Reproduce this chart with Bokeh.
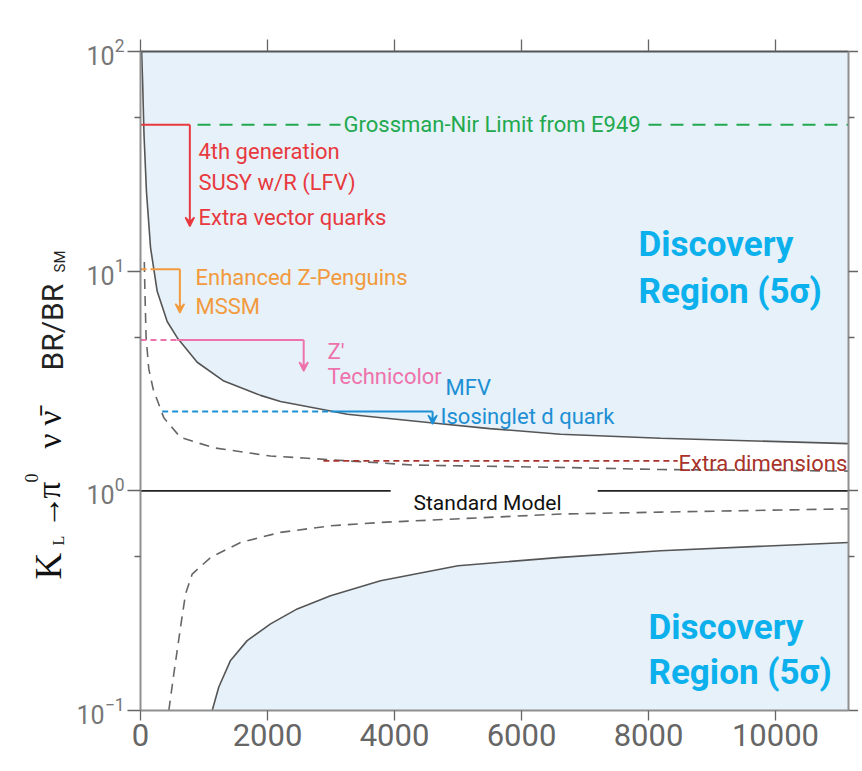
import math
from bokeh.plotting import figure
from bokeh.layouts import row
from bokeh.models import (Range1d, LogAxis, LinearAxis, FixedTicker, Label, Arrow, VeeHead,
                          CustomJSTickFormatter)
from bokeh.core.properties import value
from bokeh.embed import file_html
from bokeh.resources import INLINE

# ---------------- data ----------------
# 5 sigma discovery boundary (upper, solid)
upper_x = [18, 35, 55, 94, 158, 263, 420, 578, 893, 1313, 1890, 2205, 2993, 3255, 4568, 5500, 6615, 8190, 11150]
upper_y = [100, 70, 42, 23, 12.8, 8.1, 5.9, 4.98, 3.85, 3.16, 2.72, 2.55, 2.31, 2.23, 2.04, 1.92, 1.81, 1.736, 1.64]
# 5 sigma discovery boundary (lower, solid)
lower_x = [1129, 1233, 1418, 1680, 2048, 2468, 2993, 3780, 5000, 6615, 8190, 11150]
lower_y = [0.1, 0.128, 0.169, 0.208, 0.248, 0.29, 0.333, 0.39, 0.456, 0.498, 0.534, 0.582]
# 3 sigma (dashed) boundaries
dash_up_x = [60, 70, 88, 130, 200, 367, 630, 1155, 2048, 2572, 4300, 6773, 8190, 11150]
dash_up_y = [11, 8.0, 5.0, 3.6, 2.9, 2.15, 1.75, 1.57, 1.44, 1.41, 1.31, 1.276, 1.25, 1.23]
dash_lo_x = [446, 525, 630, 709, 814, 1103, 1575, 2205, 2993, 3780, 6615, 8190, 11150]
dash_lo_y = [0.1, 0.147, 0.239, 0.339, 0.418, 0.497, 0.582, 0.647, 0.693, 0.718, 0.784, 0.80, 0.828]

x_ticks = [0, 2000, 4000, 6000, 8000, 10000]
y_ticks = [0.1, 1, 10, 100]
y_minor = [0.5, 5, 50]

# model predictions: level, x where line ends (arrow), arrow tip level
gn_level = 46.4                     # Grossman-Nir limit
red_level, red_x, red_tip = 46.4, 777, 16.0
org_level, org_x, org_tip = 10.2, 620, 6.46
pink_level, pink_x, pink_tip = 4.86, 2570, 3.51
blue_level, blue_x, blue_tip = 2.295, 4600, 2.01
xd_level = 1.369                    # extra dimensions
sm_level = 1.0

# ---------------- figure ----------------
FILL = "#e6f1f9"
CURVE = "#555555"
AXC = "#8f8f8f"
SANS = "Roboto"
TW = 71     # width of the strip holding the rotated y title
H = 762
FR_TOP, FR_BOT = 51, 710   # frame edges (pixels from top)

p = figure(width=858 - TW, height=H, x_range=Range1d(0, 11150), y_range=Range1d(0.1, 100),
           y_axis_type="log", output_backend="svg", toolbar_location=None,
           min_border_left=140 - TW, min_border_right=10, min_border_top=FR_TOP,
           min_border_bottom=H - FR_BOT,
           background_fill_color="white", border_fill_color="white", outline_line_color=None)
p.grid.visible = False

# discovery regions
p.varea(x=upper_x, y1=upper_y, y2=[100] * len(upper_x), fill_color=FILL)
p.varea(x=lower_x, y1=[0.1] * len(lower_x), y2=lower_y, fill_color=FILL)

# boundaries
p.line(upper_x, upper_y, line_color=CURVE, line_width=1.6)
p.line(lower_x, lower_y, line_color=CURVE, line_width=1.6)
p.line(dash_up_x, dash_up_y, line_color="#666666", line_width=1.6, line_dash="10 7")
p.line(dash_lo_x, dash_lo_y, line_color="#666666", line_width=1.6, line_dash="10 7")

# Standard Model line
p.line([0, 3940], [sm_level, sm_level], line_color="#222222", line_width=1.8)
p.line([7200, 11150], [sm_level, sm_level], line_color="#222222", line_width=1.8)

# Grossman-Nir limit
GREEN = "#22a94f"
p.line([898, 3150], [gn_level, gn_level], line_color=GREEN, line_width=1.8, line_dash="13 9")
p.line([8000, 11150], [gn_level, gn_level], line_color=GREEN, line_width=1.8, line_dash="13 9")

def bracket(level, xs_dash, xs_solid, x_arrow, tip, color):
    if xs_dash:
        p.line(xs_dash, [level, level], line_color=color, line_width=2, line_dash="6 4")
    p.line(xs_solid, [level, level], line_color=color, line_width=2)
    p.add_layout(Arrow(end=VeeHead(size=9, line_color=color, fill_color=color, line_width=1.5),
                       x_start=x_arrow, y_start=level, x_end=x_arrow, y_end=tip,
                       line_color=color, line_width=2))

RED = "#e8393f"
ORG = "#f29a3d"
PINK = "#ee72ab"
BLUE = "#1d8fd4"
DRED = "#a8332c"
bracket(red_level, None, [0, red_x], red_x, red_tip, RED)
bracket(org_level, [0, 160], [160, org_x], org_x, org_tip, ORG)
bracket(pink_level, [0, 578], [578, pink_x], pink_x, pink_tip, PINK)
bracket(blue_level, [341, 2993], [2993, blue_x], blue_x, blue_tip, BLUE)
p.line([2880, 8460], [xd_level, xd_level], line_color=DRED, line_width=1.8, line_dash="6 4")

def lab(text, x, y, color, size, font=SANS, style="normal", align="left", baseline="alphabetic"):
    p.add_layout(Label(x=x, y=y, text=text, text_color=color, text_font_size=f"{size}px",
                       text_font=font, text_font_style=style, text_align=align,
                       text_baseline=baseline))

lab("Grossman-Nir Limit from E949", 3197, gn_level, GREEN, 22, baseline="middle")
lab("4th generation", 913, 35.1, RED, 22)
lab("SUSY w/R (LFV)", 913, 25.2, RED, 22)
lab("Extra vector quarks", 913, 17.5, RED, 22)
lab("Enhanced Z-Penguins", 866, 9.32, ORG, 22)
lab("MSSM", 866, 6.93, ORG, 22)
lab("Z'", 2945, 4.33, PINK, 22)
lab("Technicolor", 2945, 3.33, PINK, 22)
lab("MFV", 4804, 2.94, BLUE, 22)
lab("Isosinglet d quark", 4725, 2.19, BLUE, 22)
lab("Extra dimensions", 8474, 1.327, DRED, 22)
lab("Standard Model", 5465, 0.882, "#111111", 21, align="center")

CYAN = "#0bb0ec"
lab("Discovery", 7844, 13.27, CYAN, 35, style="bold")
lab("Region (5\u03c3)", 7844, 8.11, CYAN, 35, style="bold")
lab("Discovery", 8001, 0.238, CYAN, 35, style="bold")
lab("Region (5\u03c3)", 8001, 0.149, CYAN, 35, style="bold")

# axes
xt = FixedTicker(ticks=x_ticks, minor_ticks=[])
yt = FixedTicker(ticks=y_ticks, minor_ticks=y_minor)
blank = CustomJSTickFormatter(code="return ''")

def style_axis(ax, tick_out=12):
    ax.axis_line_color = AXC
    ax.axis_line_width = 2
    ax.major_tick_line_color = "#666666"
    ax.minor_tick_line_color = "#666666"
    ax.major_tick_line_width = 1.3
    ax.minor_tick_line_width = 1.3
    ax.major_tick_in = 0
    ax.minor_tick_in = 0
    ax.major_tick_out = tick_out
    ax.minor_tick_out = 6

xa = p.xaxis[0]
xa.ticker = xt
style_axis(xa, tick_out=10)
xa.major_label_text_font = SANS
xa.major_label_text_font_size = "31px"
xa.major_label_text_color = "#666666"
xa.major_label_standoff = 3

ya = p.yaxis[0]
ya.ticker = yt
style_axis(ya, tick_out=13)
ya.major_label_text_font = SANS
ya.major_label_text_font_size = "25px"
ya.major_label_text_color = "#777777"
ya.major_label_standoff = 3

ra = LogAxis(ticker=yt, formatter=blank, major_label_standoff=0)
style_axis(ra, tick_out=10)
p.add_layout(ra, "right")

ta = LinearAxis(ticker=xt, formatter=blank, major_label_standoff=0)
style_axis(ta, tick_out=12)
ta.axis_line_color = "#555555"
p.add_layout(ta, "above")

# ---------------- strip with the rotated y-axis title ----------------
# its frame is aligned with the main frame, so y is given in pixels from the top
t = figure(width=TW, height=H, x_range=Range1d(0, TW), y_range=Range1d(FR_BOT, FR_TOP),
           output_backend="svg", toolbar_location=None, min_border=0,
           x_axis_location=None, y_axis_location=None, outline_line_color=None,
           background_fill_color="white", border_fill_color="white")
t.grid.visible = False
SERIF = "Liberation Serif"
R = math.pi / 2

def tlab(text, x, y_start, size, font=SERIF, color="#111111"):
    # text reads bottom-to-top, starting at y_start
    t.text(x=[x], y=[y_start], text=[text], angle=R, text_align="left", text_baseline="middle",
           text_font=value(font), text_font_size=value(f"{size}px"), text_color=color)

tlab("K", 48, 579, 37)
tlab("L", 58, 545, 16)
tlab("\u2192", 48, 528, 33)
tlab("\u03c0", 48, 498, 33)
tlab("0", 31, 482, 18)
tlab("\u03bd", 49, 448, 33)
tlab("\u03bd\u0304", 49, 425, 33)
tlab("BR/BR", 52, 370, 30, font=SANS, color="#222222")
tlab("SM", 59, 272, 15, font=SANS, color="#222222")

layout = row(t, p)
open("out.html", "w").write(file_html(layout, INLINE))
